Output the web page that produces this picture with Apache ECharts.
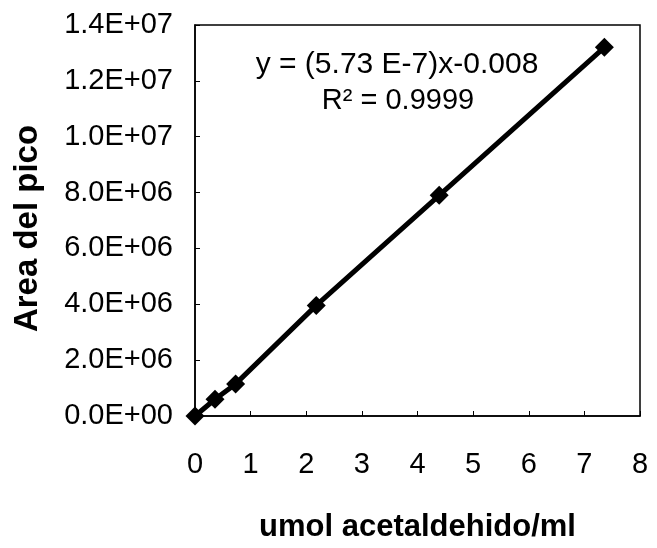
<!DOCTYPE html>
<html>
<head>
<meta charset="utf-8">
<script src="https://cdn.jsdelivr.net/npm/echarts@6/dist/echarts.min.js"></script>
<style>html,body{margin:0;padding:0;background:#fff}#c{width:657px;height:548px}</style>
</head>
<body>
<div id="c"></div>
<script>
const xValues = [0, 0.36, 0.73, 2.18, 4.39, 7.36];
const yValues = [0, 0.6e6, 1.15e6, 3.96e6, 7.9e6, 13.2e6];
const yTickLabels = ['0.0E+00','2.0E+06','4.0E+06','6.0E+06','8.0E+06','1.0E+07','1.2E+07','1.4E+07'];
const xTickLabels = ['0','1','2','3','4','5','6','7','8'];
const equationText = 'y = (5.73 E-7)x-0.008';
const r2Text = 'R² = 0.9999';
const xName = 'umol acetaldehido/ml';
const yName = 'Area del pico';

const chart = echarts.init(document.getElementById('c'), null, {renderer: 'canvas'});
const FONT = '"Liberation Sans", Arial, sans-serif';
chart.setOption({
  animation: false,
  backgroundColor: '#fff',
  grid: {left: 195, right: 17, top: 25, bottom: 130, show: true, borderColor: '#000', borderWidth: 1.5, backgroundColor: 'transparent'},
  xAxis: {
    type: 'value', min: 0, max: 8, interval: 1,
    name: xName, nameLocation: 'middle', nameGap: 96,
    nameTextStyle: {fontFamily: FONT, fontWeight: 'bold', fontSize: 31, color: '#000'},
    axisLine: {lineStyle: {color: '#000', width: 1.5}},
    axisTick: {inside: true, length: 5, lineStyle: {color: '#000'}},
    axisLabel: {fontFamily: FONT, fontSize: 29, color: '#000', margin: 34,
      formatter: v => xTickLabels[Math.round(v)]},
    splitLine: {show: false}
  },
  yAxis: {
    type: 'value', min: 0, max: 14e6, interval: 2e6,
    name: yName, nameLocation: 'middle', nameGap: 151,
    nameTextStyle: {fontFamily: FONT, fontWeight: 'bold', fontSize: 33, color: '#000', padding: [0, 16, 0, 0]},
    axisLine: {lineStyle: {color: '#000', width: 1.5}},
    axisTick: {inside: true, length: 5, lineStyle: {color: '#000'}},
    axisLabel: {fontFamily: FONT, fontSize: 29, color: '#000', margin: 22,
      formatter: v => yTickLabels[Math.round(v / 2e6)]},
    splitLine: {show: false}
  },
  series: [{
    type: 'line',
    data: xValues.map((x, i) => [x, yValues[i]]),
    symbol: 'diamond', symbolSize: 19,
    itemStyle: {color: '#000'},
    lineStyle: {color: '#000', width: 5},
    clip: false
  }],
  graphic: [
    {type: 'text', x: 397, y: 65, style: {text: equationText, fontFamily: FONT, fontSize: 30, fill: '#000', textAlign: 'center', textVerticalAlign: 'middle'}},
    {type: 'text', x: 398, y: 101, style: {text: r2Text, fontFamily: FONT, fontSize: 29, fill: '#000', textAlign: 'center', textVerticalAlign: 'middle'}}
  ]
});
</script>
</body>
</html>
